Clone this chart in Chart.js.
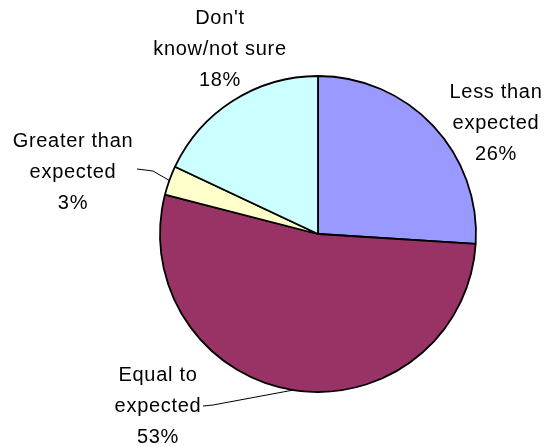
<!DOCTYPE html>
<html>
<head>
<meta charset="utf-8">
<script src="https://cdn.jsdelivr.net/npm/chart.js@4/dist/chart.umd.min.js"></script>
<style>
  html, body { margin: 0; padding: 0; background: #ffffff; }
  #wrap { width: 545px; height: 447px; position: relative; }
</style>
</head>
<body>
<div id="wrap"><canvas id="c" width="545" height="447"></canvas></div>
<script>
// Survey answers, clockwise from 12 o'clock
const categories = ['Less than expected', 'Equal to expected', 'Greater than expected', "Don't know/not sure"];
const labelLines = [['Less than', 'expected'], ['Equal to', 'expected'], ['Greater than', 'expected'], ["Don't", 'know/not sure']];
const shares = [26, 53, 3, 18];
const sliceColors = ['#9999FF', '#993366', '#FFFFCC', '#CCFFFF'];

// Label block placement relative to the pie centre: x of the text centre, baseline of first line
const labelPlacement = [
  { dx: 178, dy: -136 },
  { dx: -160, dy: 147 },
  { dx: -245, dy: -87.5 },
  { dx: -98, dy: -210 }
];
// Leader lines start beside the label and run to the middle of the slice's rim
const leaders = {
  1: [{ dx: -115, dy: 172 }, { dx: -105, dy: 171 }],
  2: [{ dx: -181, dy: -65 }, { dx: -165, dy: -63 }]
};

const outsideLabels = {
  id: 'outsideLabels',
  afterDatasetsDraw(chart) {
    const ctx = chart.ctx;
    const meta = chart.getDatasetMeta(0);
    ctx.save();
    ctx.font = '20px "Liberation Sans", Arial, sans-serif';
    if ('letterSpacing' in ctx) ctx.letterSpacing = '0.7px';
    ctx.fillStyle = '#000000';
    ctx.textAlign = 'center';
    ctx.textBaseline = 'alphabetic';
    meta.data.forEach((arc, i) => {
      const { x, y, startAngle, endAngle, outerRadius } = arc.getProps(['x', 'y', 'startAngle', 'endAngle', 'outerRadius'], true);
      const p = labelPlacement[i];
      const lines = labelLines[i].concat([shares[i] + '%']);
      lines.forEach((t, k) => ctx.fillText(t, x + p.dx, y + p.dy + k * 31));
      if (leaders[i]) {
        const mid = (startAngle + endAngle) / 2;
        ctx.beginPath();
        ctx.lineWidth = 1;
        ctx.strokeStyle = '#000000';
        leaders[i].forEach((pt, k) => {
          if (k === 0) ctx.moveTo(x + pt.dx, y + pt.dy);
          else ctx.lineTo(x + pt.dx, y + pt.dy);
        });
        ctx.lineTo(x + Math.cos(mid) * outerRadius, y + Math.sin(mid) * outerRadius);
        ctx.stroke();
      }
    });
    ctx.restore();
  }
};

new Chart(document.getElementById('c'), {
  type: 'pie',
  data: {
    labels: categories,
    datasets: [{
      data: shares,
      backgroundColor: sliceColors,
      borderColor: '#000000',
      borderWidth: 1.8
    }]
  },
  options: {
    responsive: false,
    animation: false,
    radius: 158,
    layout: { padding: { left: 91, right: 0, top: 21, bottom: 0 } },
    plugins: {
      legend: { display: false },
      tooltip: { enabled: false }
    }
  },
  plugins: [outsideLabels]
});
</script>
</body>
</html>
